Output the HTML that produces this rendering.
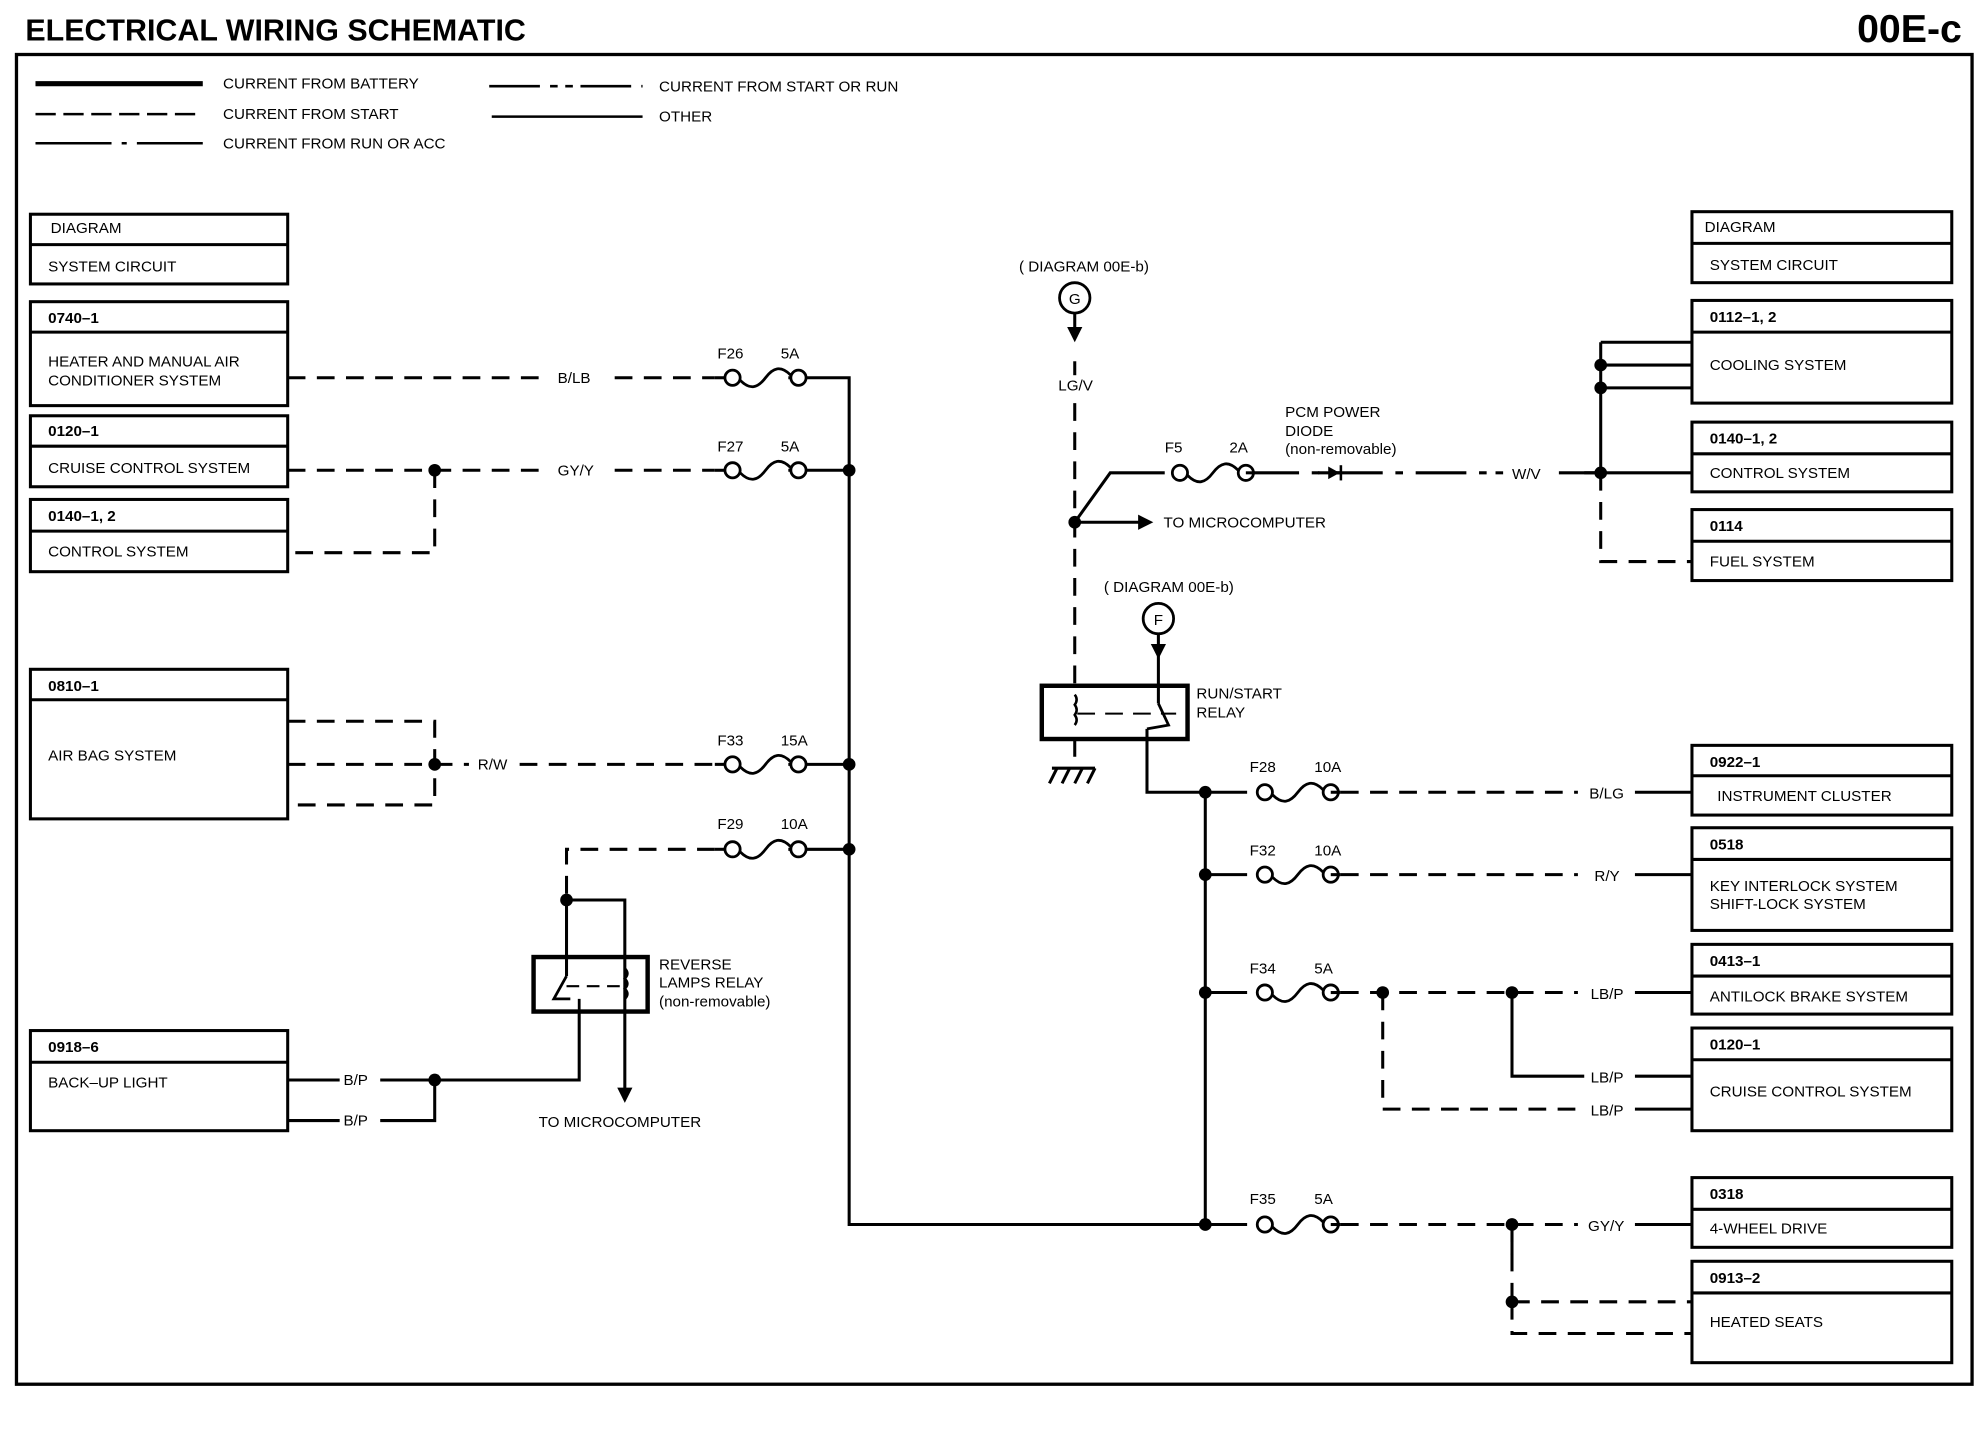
<!DOCTYPE html>
<html><head><meta charset="utf-8"><style>
html,body{margin:0;padding:0;background:#fff;}
svg{display:block;}
text{font-family:"Liberation Sans",sans-serif;font-size:12px;fill:#000;}
.b{font-weight:bold;}
</style></head><body>
<svg width="1986" height="1440" viewBox="0 0 1567 1136" preserveAspectRatio="none" xmlns="http://www.w3.org/2000/svg">
<defs>
<g id="fuse"><circle cx="0" cy="0" r="6" fill="#fff" stroke="#000" stroke-width="2.2"/><circle cx="52" cy="0" r="6" fill="#fff" stroke="#000" stroke-width="2.2"/><path d="M6,2 C14,10 20,8 26,0 C32,-8 38,-10 46,-2" fill="none" stroke="#000" stroke-width="2.2"/></g>
</defs>
<rect width="1567" height="1136" fill="#fff"/>
<text x="20" y="32" class="b" style="font-size:24px">ELECTRICAL WIRING SCHEMATIC</text>
<text x="1548" y="33" class="b" text-anchor="end" style="font-size:31px">00E-c</text>
<rect x="13" y="43" width="1543" height="1049" fill="none" stroke="#000" stroke-width="2.6"/>

<g stroke="#000" fill="none">
<line x1="28" y1="66" x2="160" y2="66" stroke-width="4"/>
<line x1="28" y1="90" x2="160" y2="90" stroke-width="2" stroke-dasharray="16,6"/>
<line x1="28" y1="113" x2="160" y2="113" stroke-width="2" stroke-dasharray="60,8,4,8"/>
<line x1="386" y1="68" x2="507" y2="68" stroke-width="2" stroke-dasharray="40,8,6,6,6,6"/>
<line x1="388" y1="92" x2="507" y2="92" stroke-width="2"/>
</g>
<text x="176" y="70">CURRENT FROM BATTERY</text>
<text x="176" y="94">CURRENT FROM START</text>
<text x="176" y="117">CURRENT FROM RUN OR ACC</text>
<text x="520" y="72">CURRENT FROM START OR RUN</text>
<text x="520" y="96">OTHER</text>

<g fill="none" stroke="#000" stroke-width="2.4">
<rect x="24" y="169" width="203" height="55"/><line x1="24" y1="193" x2="227" y2="193"/>
<rect x="24" y="238" width="203" height="82"/><line x1="24" y1="262" x2="227" y2="262"/>
<rect x="24" y="328" width="203" height="56"/><line x1="24" y1="352" x2="227" y2="352"/>
<rect x="24" y="394" width="203" height="57"/><line x1="24" y1="419" x2="227" y2="419"/>
<rect x="24" y="528" width="203" height="118"/><line x1="24" y1="552" x2="227" y2="552"/>
<rect x="24" y="813" width="203" height="79"/><line x1="24" y1="838" x2="227" y2="838"/>
<rect x="1335" y="167" width="205" height="56"/><line x1="1335" y1="192" x2="1540" y2="192"/>
<rect x="1335" y="237" width="205" height="81"/><line x1="1335" y1="262" x2="1540" y2="262"/>
<rect x="1335" y="333" width="205" height="55"/><line x1="1335" y1="358" x2="1540" y2="358"/>
<rect x="1335" y="402" width="205" height="56"/><line x1="1335" y1="427" x2="1540" y2="427"/>
<rect x="1335" y="588" width="205" height="55"/><line x1="1335" y1="612" x2="1540" y2="612"/>
<rect x="1335" y="653" width="205" height="81"/><line x1="1335" y1="678" x2="1540" y2="678"/>
<rect x="1335" y="745" width="205" height="55"/><line x1="1335" y1="770" x2="1540" y2="770"/>
<rect x="1335" y="811" width="205" height="81"/><line x1="1335" y1="836" x2="1540" y2="836"/>
<rect x="1335" y="929" width="205" height="55"/><line x1="1335" y1="954" x2="1540" y2="954"/>
<rect x="1335" y="995" width="205" height="80"/><line x1="1335" y1="1020" x2="1540" y2="1020"/>
</g>
<text x="40" y="184">DIAGRAM</text><text x="38" y="214">SYSTEM CIRCUIT</text>
<text x="38" y="255" class="b">0740–1</text><text x="38" y="289">HEATER AND MANUAL AIR</text><text x="38" y="304">CONDITIONER SYSTEM</text>
<text x="38" y="344" class="b">0120–1</text><text x="38" y="373">CRUISE CONTROL SYSTEM</text>
<text x="38" y="411" class="b">0140–1, 2</text><text x="38" y="439">CONTROL SYSTEM</text>
<text x="38" y="545" class="b">0810–1</text><text x="38" y="600">AIR BAG SYSTEM</text>
<text x="38" y="830" class="b">0918–6</text><text x="38" y="858">BACK–UP LIGHT</text>
<text x="1345" y="183">DIAGRAM</text><text x="1349" y="213">SYSTEM CIRCUIT</text>
<text x="1349" y="254" class="b">0112–1, 2</text><text x="1349" y="292">COOLING SYSTEM</text>
<text x="1349" y="350" class="b">0140–1, 2</text><text x="1349" y="377">CONTROL SYSTEM</text>
<text x="1349" y="419" class="b">0114</text><text x="1349" y="447">FUEL SYSTEM</text>
<text x="1349" y="605" class="b">0922–1</text><text x="1355" y="632">INSTRUMENT CLUSTER</text>
<text x="1349" y="670" class="b">0518</text><text x="1349" y="703">KEY INTERLOCK SYSTEM</text><text x="1349" y="717">SHIFT-LOCK SYSTEM</text>
<text x="1349" y="762" class="b">0413–1</text><text x="1349" y="790">ANTILOCK BRAKE SYSTEM</text>
<text x="1349" y="828" class="b">0120–1</text><text x="1349" y="865">CRUISE CONTROL SYSTEM</text>
<text x="1349" y="946" class="b">0318</text><text x="1349" y="973">4-WHEEL DRIVE</text>
<text x="1349" y="1012" class="b">0913–2</text><text x="1349" y="1047">HEATED SEATS</text>

<g fill="none" stroke="#000" stroke-width="2.4">
<g stroke-dasharray="14,9">
<line x1="227" y1="298" x2="430" y2="298"/><line x1="485" y1="298" x2="564" y2="298"/>
<line x1="227" y1="371" x2="430" y2="371"/><line x1="485" y1="371" x2="564" y2="371"/>
<polyline points="343,371 343,436 227,436"/>
<line x1="343" y1="603" x2="370" y2="603"/><line x1="410" y1="603" x2="564" y2="603"/>
<polyline points="564,670 447,670 447,710"/>
<polyline points="227,569 343,569 343,635 227,635"/><line x1="227" y1="603" x2="343" y2="603"/>
<line x1="848" y1="285" x2="848" y2="296"/>
<line x1="848" y1="318" x2="848" y2="541"/>
<line x1="848" y1="583" x2="848" y2="604"/>
<line x1="1058" y1="625" x2="1245" y2="625"/><line x1="1058" y1="690" x2="1245" y2="690"/>
<line x1="1058" y1="783" x2="1245" y2="783"/><line x1="1058" y1="966" x2="1245" y2="966"/>
<polyline points="1091,783 1091,875 1250,875"/>
<line x1="1193" y1="966" x2="1193" y2="1027"/>
<line x1="1193" y1="1027" x2="1335" y2="1027"/>
<polyline points="1193,1027 1193,1052 1335,1052"/>
<polyline points="1263,373 1263,443 1335,443"/>
</g>
<line x1="985" y1="373" x2="1180" y2="373" stroke-dasharray="40,10,6,10"/>
<line x1="1230" y1="373" x2="1335" y2="373"/>
<line x1="1290" y1="625" x2="1335" y2="625"/><line x1="1290" y1="690" x2="1335" y2="690"/>
<line x1="1290" y1="783" x2="1335" y2="783"/><line x1="1290" y1="966" x2="1335" y2="966"/>
<line x1="1290" y1="849" x2="1335" y2="849"/><line x1="1290" y1="875" x2="1335" y2="875"/>
<polyline points="1193,783 1193,849 1250,849"/>
<polyline points="1263,270 1263,373"/>
<line x1="1263" y1="270" x2="1335" y2="270"/><line x1="1263" y1="288" x2="1335" y2="288"/><line x1="1263" y1="306" x2="1335" y2="306"/>
<line x1="1250" y1="373" x2="1263" y2="373"/>
<polyline points="622,298 670,298 670,966 951,966"/>
<line x1="622" y1="371" x2="670" y2="371"/><line x1="622" y1="603" x2="670" y2="603"/><line x1="622" y1="670" x2="670" y2="670"/>
<polyline points="447,710 447,770"/><polyline points="447,710 493,710 493,860"/>
<polyline points="457,798 457,852 343,852"/>
<line x1="227" y1="852" x2="268" y2="852"/><line x1="300" y1="852" x2="343" y2="852"/>
<polyline points="227,884 268,884"/><polyline points="300,884 343,884 343,852"/>
<polyline points="848,412 876,373 919,373"/>
<line x1="848" y1="412" x2="900" y2="412"/>
<line x1="848" y1="247" x2="848" y2="262"/>
<line x1="914" y1="500" x2="914" y2="555"/>
<polyline points="905,575 905,625 984,625"/>
<line x1="951" y1="625" x2="951" y2="966"/>
<line x1="951" y1="690" x2="984" y2="690"/><line x1="951" y1="783" x2="984" y2="783"/><line x1="951" y1="966" x2="984" y2="966"/>
<line x1="1193" y1="966" x2="1193" y2="990"/>
<line x1="830" y1="606" x2="864" y2="606"/>
<line x1="834" y1="606" x2="828" y2="618"/><line x1="844" y1="606" x2="838" y2="618"/><line x1="854" y1="606" x2="848" y2="618"/><line x1="864" y1="606" x2="858" y2="618"/>
<line x1="1040" y1="373" x2="1058" y2="373"/>
</g>
<g fill="none" stroke="#000">
<rect x="421" y="755" width="90" height="43" stroke-width="3.5"/>
<polyline points="447,770 437,788 450,788" stroke-width="2.2"/><line x1="447" y1="778" x2="490" y2="778" stroke-width="1.6" stroke-dasharray="10,6"/>
<path d="M493,764 q4,4 0,8 q4,4 0,8 q4,4 0,8" stroke-width="2"/>
<line x1="457" y1="788" x2="457" y2="798" stroke-width="2.2"/>
<rect x="822" y="541" width="115" height="42" stroke-width="3.5"/>
<path d="M848,548 q3,4 0,8 q3,4 0,8 q3,4 0,8" stroke-width="2"/>
<line x1="850" y1="563" x2="928" y2="563" stroke-width="1.6" stroke-dasharray="14,8"/>
<polyline points="914,555 922,572 905,575" stroke-width="2.2"/>
</g>
<use href="#fuse" x="578" y="298"/><use href="#fuse" x="578" y="371"/>
<use href="#fuse" x="578" y="603"/><use href="#fuse" x="578" y="670"/>
<use href="#fuse" x="931" y="373"/>
<use href="#fuse" x="998" y="625"/><use href="#fuse" x="998" y="690"/>
<use href="#fuse" x="998" y="783"/><use href="#fuse" x="998" y="966"/>
<g stroke="#000" stroke-width="2.4"><line x1="564" y1="298" x2="572" y2="298"/><line x1="564" y1="371" x2="572" y2="371"/><line x1="564" y1="603" x2="572" y2="603"/><line x1="564" y1="670" x2="572" y2="670"/><line x1="1050" y1="625" x2="1058" y2="625"/><line x1="1050" y1="690" x2="1058" y2="690"/><line x1="1050" y1="783" x2="1058" y2="783"/><line x1="1050" y1="966" x2="1058" y2="966"/><line x1="983" y1="373" x2="990" y2="373"/><line x1="1180" y1="373" x2="1186" y2="373"/></g>
<g fill="#000">
<circle cx="343" cy="371" r="5"/><circle cx="670" cy="371" r="5"/><circle cx="343" cy="603" r="5"/><circle cx="670" cy="603" r="5"/><circle cx="670" cy="670" r="5"/><circle cx="447" cy="710" r="5"/><circle cx="343" cy="852" r="5"/>
<circle cx="848" cy="412" r="5"/><circle cx="1263" cy="288" r="5"/><circle cx="1263" cy="306" r="5"/><circle cx="1263" cy="373" r="5"/>
<circle cx="951" cy="625" r="5"/><circle cx="951" cy="690" r="5"/><circle cx="951" cy="783" r="5"/><circle cx="951" cy="966" r="5"/>
<circle cx="1091" cy="783" r="5"/><circle cx="1193" cy="783" r="5"/><circle cx="1193" cy="966" r="5"/><circle cx="1193" cy="1027" r="5"/>
<polygon points="842,258 854,258 848,270"/><polygon points="908,508 920,508 914,520"/>
<polygon points="487,858 499,858 493,870"/><polygon points="898,406 898,418 910,412"/>
<polygon points="1048,368 1048,378 1057,373"/><rect x="1057" y="367" width="2" height="12"/>
</g>
<circle cx="848" cy="235" r="12" fill="#fff" stroke="#000" stroke-width="2.2"/><text x="848" y="240" text-anchor="middle">G</text>
<circle cx="914" cy="488" r="12" fill="#fff" stroke="#000" stroke-width="2.2"/><text x="914" y="493" text-anchor="middle">F</text>
<g style="font-size:11.5px">
<text x="440" y="302">B/LB</text><text x="440" y="375">GY/Y</text><text x="377" y="607">R/W</text>
<text x="566" y="283">F26</text><text x="616" y="283">5A</text>
<text x="566" y="356">F27</text><text x="616" y="356">5A</text>
<text x="566" y="588">F33</text><text x="616" y="588">15A</text>
<text x="566" y="654">F29</text><text x="616" y="654">10A</text>
<text x="271" y="856">B/P</text><text x="271" y="888">B/P</text>
<text x="520" y="765">REVERSE</text><text x="520" y="779">LAMPS RELAY</text><text x="520" y="794">(non-removable)</text>
<text x="425" y="889">TO MICROCOMPUTER</text>
<text x="804" y="214">( DIAGRAM 00E-b)</text><text x="835" y="308">LG/V</text>
<text x="918" y="416">TO MICROCOMPUTER</text>
<text x="919" y="357">F5</text><text x="970" y="357">2A</text>
<text x="1014" y="329">PCM POWER</text><text x="1014" y="344">DIODE</text><text x="1014" y="358">(non-removable)</text>
<text x="1193" y="378">W/V</text>
<text x="871" y="467">( DIAGRAM 00E-b)</text>
<text x="944" y="551">RUN/START</text><text x="944" y="566">RELAY</text>
<text x="986" y="609">F28</text><text x="1037" y="609">10A</text>
<text x="986" y="675">F32</text><text x="1037" y="675">10A</text>
<text x="986" y="768">F34</text><text x="1037" y="768">5A</text>
<text x="986" y="950">F35</text><text x="1037" y="950">5A</text>
<text x="1254" y="630">B/LG</text><text x="1258" y="695">R/Y</text><text x="1255" y="788">LB/P</text>
<text x="1255" y="854">LB/P</text><text x="1255" y="880">LB/P</text><text x="1253" y="971">GY/Y</text>
</g>
</svg>
</body></html>
